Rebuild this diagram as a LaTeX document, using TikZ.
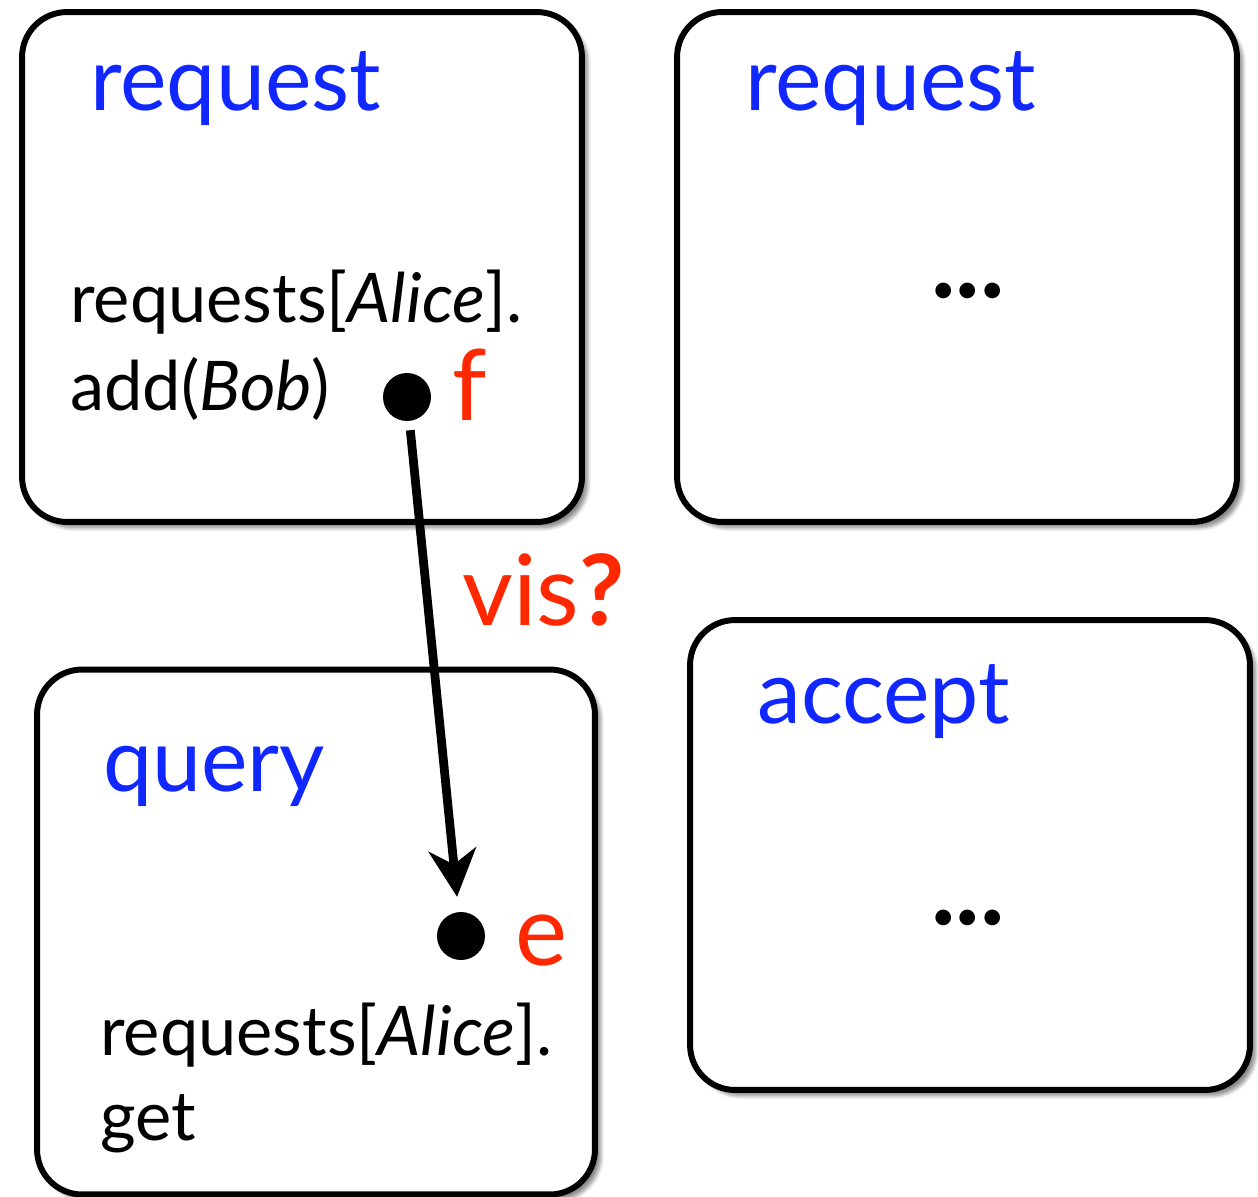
\documentclass[tikz,border=0pt]{standalone}
\usepackage{fontspec}
\setmainfont{Lato}
\usetikzlibrary{arrows.meta,shadows.blur,positioning}

\definecolor{opblue}{RGB}{16,40,255}
\definecolor{evred}{RGB}{255,40,0}

\tikzset{
  opbox/.style={draw,line width=3.4pt,rounded corners=0.9cm,fill=white,
    blur shadow={shadow xshift=0.12cm,shadow yshift=-0.12cm,shadow blur steps=6,shadow opacity=45}},
  opname/.style={anchor=base west,text=opblue,inner sep=0pt,font=\fontsize{50}{54}\selectfont},
  optext/.style={anchor=base west,inner sep=0pt,align=left,font=\fontsize{39}{44}\selectfont},
  evlabel/.style={anchor=base west,text=evred,inner sep=0pt,font=\fontsize{56}{60}\selectfont},
  ev/.style={circle,fill,inner sep=0pt,minimum size=0.96cm},
  dots/.style={inner sep=0pt,font=\fontsize{24}{28}\selectfont}
}

\begin{document}
\begin{tikzpicture}[x=0.02cm,y=-0.02cm]
\useasboundingbox (0,0) rectangle (1258,1197);

% the four boxes
\node[opbox,minimum width=11.2cm,minimum height=10.2cm] (req1) at (302,267) {};
\node[opbox,minimum width=11.2cm,minimum height=10.2cm] (req2) at (957,267) {};
\node[opbox,minimum width=11.16cm,minimum height=10.5cm] (qry) at (316,932) {};
\node[opbox,minimum width=11.2cm,minimum height=9.4cm] (acc) at (970,855) {};

% operation names
\node[opname] (n1) at (90,110) {request};
\node[opname] (n2) at (745,110) {request};
\node[opname] (n3) at (103,791) {query};
\node[opname] (n4) at (757,723) {accept};

% operation bodies
\node[optext] (t1) at (70,322) {requests[\textit{Alice}].};
\node[optext] (t2) at (70,410) {add(\textit{Bob})};
\node[optext] (t3) at (100,1055) {requests[\textit{Alice}].};
\node[optext] (t4) at (100,1140) {get};
\node[dots] (d1) at (968,293) {\textbullet\textbullet\textbullet};
\node[dots] (d2) at (968,920) {\textbullet\textbullet\textbullet};

% events
\node[ev] (f) at (407,397) {};
\node[ev] (e) at (461,936) {};
\node[evlabel] (lf) at (452,420) {f};
\node[evlabel] (le) at (515,965) {e};
\node[evlabel] (vis) at (462,625) {vis\textbf{?}};

\path (f) edge[-{Stealth[length=0.95cm,width=0.95cm,inset=0.3cm]},line width=5pt,shorten <=0.18cm,shorten >=0.3cm] (e);
\end{tikzpicture}
\end{document}
